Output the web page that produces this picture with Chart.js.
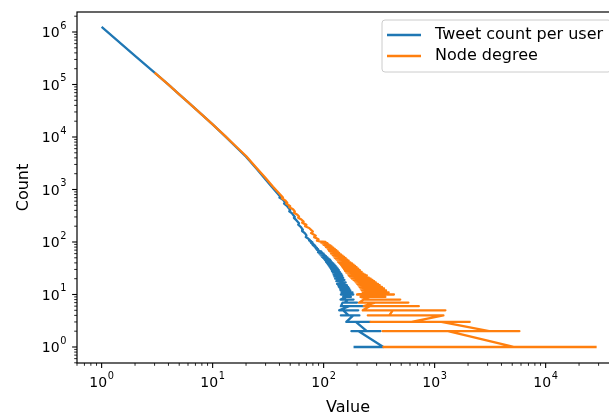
<!DOCTYPE html>
<html>
<head>
<meta charset="utf-8">
<script src="https://cdn.jsdelivr.net/npm/chart.js@4.4.0/dist/chart.umd.min.js"></script>
<style>
  html, body { margin: 0; padding: 0; background: #fff; overflow: hidden; }
  #wrap { width: 640px; height: 415px; }
</style>
</head>
<body>
<div id="wrap"><canvas id="chart" width="640" height="415"></canvas></div>
<script>
// value -> count (sorted by count, so the tail zig-zags between values)
const tweetValues = [1, 2, 3, 4, 5, 6, 8, 10, 13, 16, 20, 25, 30, 35, 40,
  41, 40, 43, 45, 44, 47, 50, 49, 52, 55, 54, 57, 60, 59, 62, 65, 64, 68, 70, 69, 73,
  75, 74, 77, 76, 79, 77, 80, 79, 82, 80, 84, 82, 85, 84, 87, 85, 89, 87, 90, 89,
  95, 89, 97, 91, 100, 93, 102, 95, 105, 97, 108, 99, 111, 101, 114, 103, 116, 105, 119, 107,
  122, 109, 125, 111, 128, 113, 131, 115, 134, 117, 137, 119, 140, 121, 144, 123, 147, 125, 150, 127,
  154, 130, 158, 132, 162, 135, 166, 137, 170, 140, 174, 142, 178, 145, 182, 148, 185, 143, 165,
  150, 176, 160, 142, 186, 165, 155, 200, 148, 143, 235, 170, 138, 205, 150,
  168, 143, 210, 185, 160, 262, 195, 245, 178, 325, 207, 345, 186];
const tweetCounts = [1250000, 350000, 168000, 99000, 65000, 46000, 26700, 17400, 10300, 6650, 4200, 2450, 1550, 1050, 760,
  720, 700, 640, 565, 540, 480, 405, 385, 350, 300, 288, 258, 228, 215, 195, 172, 162, 146, 133, 124, 115,
  110, 107, 104, 101, 99, 96, 94, 91, 89, 87, 85, 83, 81, 79, 77, 75, 73, 71, 70, 68,
  66, 64, 63, 61, 60, 58, 57, 55, 54, 52, 51, 50, 48, 47, 46, 45, 44, 42, 41, 40,
  39, 38, 37, 36, 35, 34, 33, 32, 31, 30, 29, 28, 27, 26, 25, 24, 23, 22, 21, 20,
  19, 18, 17, 16, 15, 15, 14, 14, 13, 13, 12, 12, 11, 11, 11, 10, 10, 10, 10,
  9, 9, 9, 8, 8, 8, 7, 7, 7, 6, 6, 6, 5, 5, 5,
  4, 4, 4, 4, 3, 3, 3, 2, 2, 2, 2, 1, 1];

const degreeValues = [3, 4, 5, 6, 8, 10, 13, 16, 20, 25, 30, 35, 40,
  43, 42, 45, 47, 46, 50, 49, 53, 55, 54, 58, 60, 59, 63, 66, 64, 70, 68, 74, 80, 77, 85, 82, 90, 87,
  92, 104, 95, 108, 98, 111, 100, 115, 103, 118, 105, 122, 108, 126, 110, 130, 112, 134, 115, 138,
  117, 143, 120, 148, 123, 153, 126, 158, 129, 163, 132, 168, 135, 174, 138, 180, 141, 186, 144, 192,
  147, 198, 150, 205, 153, 212, 156, 220, 160, 228, 164, 236, 168, 245, 172, 255, 176, 265, 180, 275,
  185, 285, 190, 295, 195, 308, 200, 320, 205, 335, 210, 350, 215, 365, 220, 385, 225, 290,
  200, 430, 300, 240, 360, 215, 260, 490, 230, 208, 580, 290, 230, 720, 260, 225, 1250, 420,
  390, 250, 1200, 620, 265, 2070, 1150, 3100, 340, 5800, 1320, 5150, 345, 28800];
const degreeCounts = [168000, 99000, 65000, 46000, 26700, 17400, 10400, 6800, 4350, 2550, 1650, 1130, 830,
  700, 680, 620, 560, 540, 480, 460, 420, 380, 362, 330, 305, 290, 268, 245, 234, 212, 200, 185, 158, 148, 132, 124, 113, 106,
  103, 100, 97, 95, 93, 90, 88, 86, 84, 82, 80, 78, 76, 74, 72, 70, 68, 66, 64, 62,
  60, 58, 57, 55, 53, 52, 50, 49, 47, 46, 45, 44, 42, 41, 40, 39, 38, 37, 36, 35,
  34, 33, 32, 31, 30, 29, 28, 27, 26, 25, 25, 24, 23, 23, 22, 21, 21, 20, 20, 19,
  19, 18, 18, 17, 17, 16, 16, 15, 15, 14, 14, 13, 13, 12, 12, 11, 11, 11,
  10, 10, 10, 9, 9, 9, 8, 8, 8, 7, 7, 7, 6, 6, 6, 5, 5, 5,
  4, 4, 4, 3, 3, 3, 3, 2, 2, 2, 2, 1, 1, 1];

const seriesNames = ["Tweet count per user", "Node degree"];
const seriesColors = ["#1f77b4", "#ff7f0e"];
const xExponents = [0, 1, 2, 3, 4];
const yExponents = [0, 1, 2, 3, 4, 5, 6];
const xTitle = "Value";
const yTitle = "Count";

const FONT = "'DejaVu Sans', sans-serif";

function toPoints(xs, ys) {
  return xs.map((x, i) => ({ x: x, y: ys[i] }));
}

// matplotlib-like frame, log ticks, labels and legend
const mplAxes = {
  id: "mplAxes",
  afterDraw(chart) {
    const ctx = chart.ctx;
    const a = chart.chartArea;
    const xs = chart.scales.x;
    const ys = chart.scales.y;
    ctx.save();
    ctx.strokeStyle = "#000";

    // minor + major ticks
    for (let e = -1; e <= 7; e++) {
      for (let m = 1; m <= 9; m++) {
        const v = m * Math.pow(10, e);
        const major = m === 1;
        const len = major ? 4.9 : 2.8;
        ctx.lineWidth = major ? 1.1 : 0.85;
        if (v >= xs.min && v <= xs.max) {
          const px = xs.getPixelForValue(v);
          ctx.beginPath();
          ctx.moveTo(px, a.bottom);
          ctx.lineTo(px, a.bottom + len);
          ctx.stroke();
        }
        if (v >= ys.min && v <= ys.max) {
          const py = ys.getPixelForValue(v);
          ctx.beginPath();
          ctx.moveTo(a.left, py);
          ctx.lineTo(a.left - len, py);
          ctx.stroke();
        }
      }
    }

    // frame
    ctx.lineWidth = 1.2;
    ctx.strokeRect(a.left, a.top, a.right - a.left, a.bottom - a.top);

    // tick labels: 10 with a raised exponent
    ctx.fillStyle = "#000";
    ctx.textBaseline = "alphabetic";
    ctx.textAlign = "left";
    const baseFont = "14px " + FONT;
    const supFont = "9.8px " + FONT;
    function widths(exp) {
      ctx.font = baseFont;
      const w1 = ctx.measureText("10").width;
      ctx.font = supFont;
      const w2 = ctx.measureText(String(exp)).width;
      return [w1, w2];
    }
    function label(x, baseline, exp, w1) {
      ctx.font = baseFont;
      ctx.fillText("10", x, baseline);
      ctx.font = supFont;
      ctx.fillText(String(exp), x + w1 + 0.6, baseline - 8.5);
    }
    yExponents.forEach(exp => {
      const py = ys.getPixelForValue(Math.pow(10, exp));
      const [w1, w2] = widths(exp);
      label(a.left - 10.5 - w1 - w2 - 0.6, py + 5.3, exp, w1);
    });
    xExponents.forEach(exp => {
      const px = xs.getPixelForValue(Math.pow(10, exp));
      const [w1, w2] = widths(exp);
      label(px - (w1 + w2 + 0.6) / 2, a.bottom + 24.3, exp, w1);
    });

    // axis titles
    ctx.font = "16px " + FONT;
    ctx.textAlign = "center";
    ctx.fillText(xTitle, (a.left + a.right) / 2, 411.5);
    ctx.save();
    ctx.translate(27.5, (a.top + a.bottom) / 2);
    ctx.rotate(-Math.PI / 2);
    ctx.fillText(yTitle, 0, 0);
    ctx.restore();

    // legend (upper right, partly cut by the crop like the source image)
    const lx = a.right - 8 - 229, ly = a.top + 8, lw = 229, lh = 52, r = 3;
    ctx.beginPath();
    ctx.moveTo(lx + r, ly);
    ctx.arcTo(lx + lw, ly, lx + lw, ly + lh, r);
    ctx.arcTo(lx + lw, ly + lh, lx, ly + lh, r);
    ctx.arcTo(lx, ly + lh, lx, ly, r);
    ctx.arcTo(lx, ly, lx + lw, ly, r);
    ctx.closePath();
    ctx.fillStyle = "rgba(255,255,255,0.8)";
    ctx.fill();
    ctx.strokeStyle = "#cccccc";
    ctx.lineWidth = 1;
    ctx.stroke();

    ctx.font = "16px " + FONT;
    ctx.textAlign = "left";
    seriesNames.forEach((name, i) => {
      const y = ly + 15 + i * 21;
      ctx.strokeStyle = seriesColors[i];
      ctx.lineWidth = 2.3;
      ctx.beginPath();
      ctx.moveTo(lx + 5, y);
      ctx.lineTo(lx + 39, y);
      ctx.stroke();
      ctx.fillStyle = "#000";
      ctx.fillText(name, lx + 53, y + 4);
    });
    ctx.restore();
  }
};

new Chart(document.getElementById("chart"), {
  type: "scatter",
  data: {
    datasets: [
      {
        label: seriesNames[0],
        data: toPoints(tweetValues, tweetCounts),
        showLine: true,
        borderColor: seriesColors[0],
        backgroundColor: seriesColors[0],
        borderWidth: 2.3,
        borderJoinStyle: "round",
        pointRadius: 0,
        order: 1
      },
      {
        label: seriesNames[1],
        data: toPoints(degreeValues, degreeCounts),
        showLine: true,
        borderColor: seriesColors[1],
        backgroundColor: seriesColors[1],
        borderWidth: 2.3,
        borderJoinStyle: "round",
        pointRadius: 0,
        order: 0
      }
    ]
  },
  options: {
    responsive: false,
    animation: false,
    layout: { padding: { left: 77, top: 12, right: 21, bottom: 52 } },
    plugins: { legend: { display: false }, tooltip: { enabled: false } },
    scales: {
      x: { type: "logarithmic", min: 0.6004, max: 45800, display: false },
      y: { type: "logarithmic", min: 0.4955, max: 2404000, display: false }
    }
  },
  plugins: [mplAxes]
});
</script>
</body>
</html>
